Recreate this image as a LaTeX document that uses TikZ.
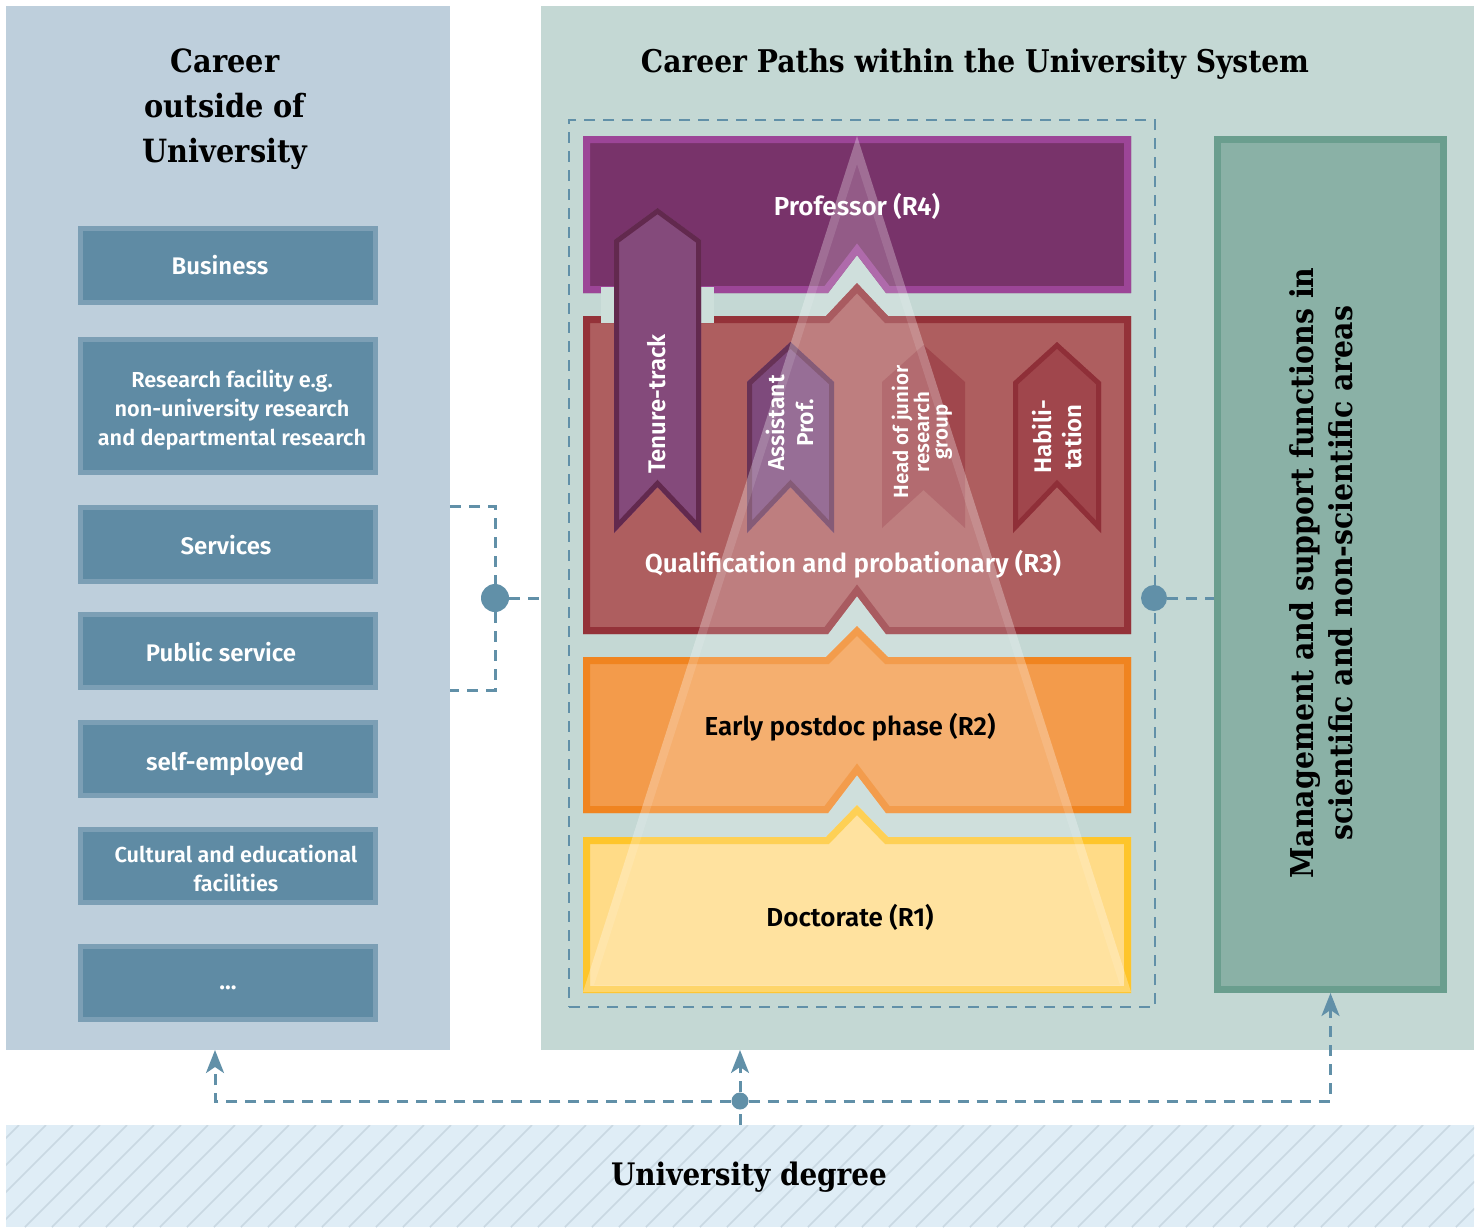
\documentclass[tikz,border=0pt]{standalone}
\usepackage{fontspec}
\setmainfont{DejaVu Serif Condensed}
\setsansfont{Fira Sans}[BoldFont={Fira Sans SemiBold}]
\usetikzlibrary{arrows.meta}

\definecolor{outpanel}{HTML}{BECFDC}
\definecolor{inpanel}{HTML}{C4D8D4}
\definecolor{jobfill}{HTML}{5F8BA4}
\definecolor{jobline}{HTML}{7C9FB5}
\definecolor{linkblue}{HTML}{6190A8}
\definecolor{rfourfill}{HTML}{78336A}
\definecolor{rfourline}{HTML}{9C4597}
\definecolor{rthreefill}{HTML}{AE5E5F}
\definecolor{rthreeline}{HTML}{943239}
\definecolor{rtwofill}{HTML}{F39B4B}
\definecolor{rtwoline}{HTML}{F08420}
\definecolor{ronefill}{HTML}{FFDB87}
\definecolor{roneline}{HTML}{FEC52B}
\definecolor{tenurefill}{HTML}{844A7B}
\definecolor{tenureline}{HTML}{62294E}
\definecolor{assistfill}{HTML}{7E4A7C}
\definecolor{assistline}{HTML}{673256}
\definecolor{headfill}{HTML}{A0474D}
\definecolor{habilfill}{HTML}{A0464C}
\definecolor{habilline}{HTML}{8F2F38}
\definecolor{mgmtfill}{HTML}{8AB1A6}
\definecolor{mgmtline}{HTML}{6A9E8E}
\definecolor{degreefill}{HTML}{DFEDF6}
\definecolor{hatch}{HTML}{C9D8E2}
\definecolor{halo}{HTML}{CDDFDA}

\tikzstyle{panel} = [inner sep=0, outer sep=0]
\tikzstyle{jobbox} = [draw=jobline, fill=jobfill, line width=5pt,
    minimum width=295pt, text=white, align=center, inner sep=0,
    font=\sffamily\bfseries\fontsize{24}{29}\selectfont]
\tikzstyle{link} = [draw=linkblue, line width=3pt, dash pattern=on 11pt off 8pt]
\tikzstyle{uparrow} = [-{Stealth[length=23pt, width=18pt, inset=6pt]}]
\tikzstyle{dot} = [circle, fill=linkblue, inner sep=0]
\tikzstyle{heading} = [align=center, font=\bfseries\fontsize{32}{45}\selectfont]
\tikzstyle{stagelabel} = [font=\sffamily\bfseries\fontsize{26}{30}\selectfont]
\tikzstyle{ribbonlabel} = [rotate=90, text=white, align=center,
    font=\sffamily\bfseries\fontsize{23}{29}\selectfont]

% shape with a border lying inside its outline
\newcommand\bordered[4]{\begin{scope}
    \clip #1; \fill[#2] #1; \draw[#3, line width=#4, line join=miter] #1;
    \end{scope}}
% text block moved down a little inside its box
\newcommand\lowered[2]{\raisebox{-#1pt}[\height][\depth]{\begin{tabular}{@{}c@{}}#2\end{tabular}}}

\begin{document}
\begin{tikzpicture}[x=1pt, y=-1pt]
\useasboundingbox (0,0) rectangle (1482,1227);

% background panels
\node[panel, fill=outpanel, minimum width=444pt, minimum height=1044pt] (outside) at (228,528) {};
\node[panel, fill=inpanel, minimum width=933pt, minimum height=1044pt] (inside) at (1007.5,528) {};
\node[panel, fill=degreefill, minimum width=1468pt, minimum height=102pt] (degree) at (740,1176) {};
\begin{scope}
\clip (6,1125) rectangle (1474,1227);
\foreach \x in {-110,-83,...,1480}
    \draw[hatch, line width=1.5pt] (\x,1227) -- ++(102,-102);
\end{scope}
\node[font=\bfseries\fontsize{31}{34}\selectfont] (degreelabel) at (749,1177) {University degree};

% titles
\node[heading] (outtitle) at (225,109) {Career\\outside of\\University};
\node[heading, font=\bfseries\fontsize{31.3}{40}\selectfont] (intitle) at (975,64) {Career Paths within the University System};

% careers outside
\node[jobbox, minimum height=74pt, text height=17pt, text depth=0pt] (business) at (228,265.5) {\hspace*{-16pt}Business};
\node[jobbox, minimum height=133pt, font=\sffamily\bfseries\fontsize{21.7}{29}\selectfont] (research) at (228,406)
    {\lowered{5}{\hspace{8pt}Research facility e.g.\\\hspace{8pt}non-university research\\\hspace{8pt}and departmental research}};
\node[jobbox, minimum height=74pt, text height=20.5pt, text depth=0pt] (services) at (228,544.5) {\hspace*{-4pt}Services};
\node[jobbox, minimum height=73pt, text height=20.5pt, text depth=0pt] (public) at (228,651) {\hspace*{-14pt}Public service};
\node[jobbox, minimum height=73pt, text height=22.5pt, text depth=0pt] (selfemp) at (228,759) {\hspace*{-6pt}self-employed};
\node[jobbox, minimum height=73pt, font=\sffamily\bfseries\fontsize{21.7}{29}\selectfont] (cultural) at (228,866)
    {\lowered{5.5}{\hspace{16pt}Cultural and educational\\\hspace{16pt}facilities}};
\node[jobbox, minimum height=73pt, text height=12pt, text depth=0pt] (more) at (228,983) {...};

% university track
\node[panel, draw=linkblue, line width=2.5pt, dash pattern=on 11pt off 8pt,
    minimum width=586pt, minimum height=887pt] (track) at (862,563.5) {};

\bordered{(583,136) -- (1131,136) -- (1131,293) -- (886,293) -- (857,255) -- (828,293) -- (583,293) -- cycle}{rfourfill}{rfourline}{14pt}
\bordered{(583,316) -- (826,316) -- (857,283) -- (888,316) -- (1131,316) -- (1131,634) -- (886,634) -- (857,596) -- (828,634) -- (583,634) -- cycle}{rthreefill}{rthreeline}{14pt}
\bordered{(583,657) -- (826,657) -- (857,626) -- (888,657) -- (1131,657) -- (1131,813) -- (886,813) -- (857,775) -- (828,813) -- (583,813) -- cycle}{rtwofill}{rtwoline}{14pt}
\bordered{(583,837) -- (826,837) -- (857,805) -- (888,837) -- (1131,837) -- (1131,993) -- (583,993) -- cycle}{ronefill}{roneline}{14pt}

% ribbons
\fill[halo] (601,287) rectangle (714,323);
\bordered{(614,240) -- (657.5,208) -- (701,240) -- (701,533) -- (657.5,487) -- (614,533) -- cycle}{tenurefill}{tenureline}{10pt}
\bordered{(747,382) -- (790.5,342) -- (834,382) -- (834,533) -- (790.5,487) -- (747,533) -- cycle}{assistfill}{assistline}{10pt}
\fill[headfill] (882,382) -- (923.5,345) -- (965,382) -- (965,528) -- (923.5,490) -- (882,528) -- cycle;
\bordered{(1013,382) -- (1057,342) -- (1101,382) -- (1101,533) -- (1057,487) -- (1013,533) -- cycle}{habilfill}{habilline}{10pt}

% light pyramid
\fill[white, opacity=0.2] (857,136) -- (1131,992) -- (583,992) -- cycle;
\fill[white, opacity=0.12, even odd rule] (857,136) -- (1131,992) -- (583,992) -- cycle
    (857,164) -- (1120,985) -- (594,985) -- cycle;

\node[stagelabel, text=white] (rfour) at (857,206) {Professor (R4)};
\node[stagelabel, text=white] (rthree) at (853,564) {Qualification and probationary (R3)};
\node[stagelabel] (rtwo) at (850,727) {Early postdoc phase (R2)};
\node[stagelabel] (rone) at (850,917) {Doctorate (R1)};

\node[ribbonlabel, font=\sffamily\bfseries\fontsize{24}{29}\selectfont] (tenure) at (657,404) {Tenure-track};
\node[ribbonlabel] (assist) at (790,423) {Assistant\\Prof.};
\node[ribbonlabel, font=\sffamily\bfseries\fontsize{20.5}{18.5}\selectfont] (head) at (922,432) {Head of junior\\research\\group};
\node[ribbonlabel, font=\sffamily\bfseries\fontsize{24}{30}\selectfont] (habil) at (1057,437) {Habili-\\tation};

% management
\node[draw=mgmtline, fill=mgmtfill, line width=7pt, minimum width=226pt, minimum height=850pt, inner sep=0] (mgmt) at (1330.5,564.5) {};
\node[heading, rotate=90, font=\bfseries\fontsize{31.5}{39}\selectfont] (mgmtlabel) at (1321,573)
    {Management and support functions in\\scientific and non-scientific areas};

% connectors
\node[dot, minimum size=28pt] (ldot) at (495,598) {};
\node[dot, minimum size=26pt] (rdot) at (1154,598) {};
\node[dot, minimum size=17pt] (bdot) at (740,1101) {};
\coordinate (bracktop) at (450,506);
\coordinate (brackbot) at (450,690);
\coordinate (outfoot) at (215,1050);
\draw[link] (bracktop) -| (ldot);
\draw[link] (ldot) |- (brackbot);
\draw[link] (ldot) -- (inside.west |- ldot);
\draw[link] (rdot) -- (mgmt.west |- rdot);
\draw[link] (degree.north -| bdot) -- (bdot);
\draw[link, uparrow] (bdot) -- (inside.south -| bdot);
\draw[link, uparrow] (bdot) -| (outfoot);
\draw[link, uparrow] (bdot) -| (mgmt.south);
\end{tikzpicture}
\end{document}
